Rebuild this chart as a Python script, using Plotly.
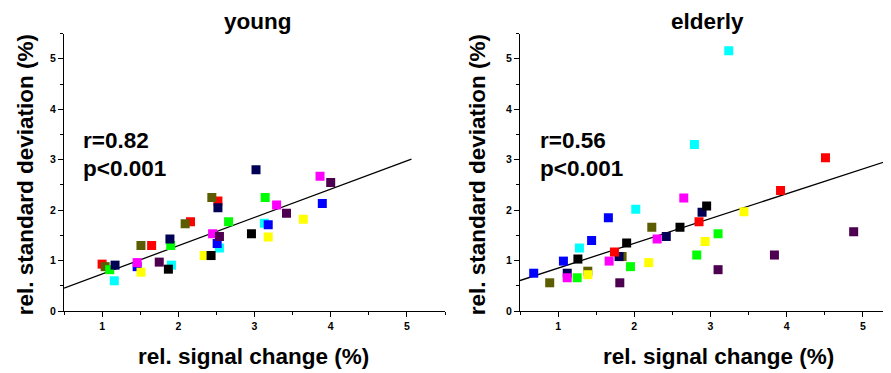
import plotly.graph_objects as go

# ---------------- data ----------------
colors = {
    "red": "#ff0000", "olive": "#5c5c00", "green": "#00ff00", "navy": "#000055",
    "cyan": "#00ffff", "blue": "#0000ff", "magenta": "#ff00ff", "yellow": "#ffff00",
    "purple": "#4d0050", "black": "#000000",
}

young_x = {
    "red": [1.00, 1.65, 2.16, 2.52],
    "olive": [1.04, 1.51, 2.09, 2.44],
    "green": [1.10, 1.90, 2.66, 3.14],
    "navy": [1.17, 1.89, 2.52, 3.02],
    "cyan": [1.16, 1.91, 2.54, 3.13],
    "blue": [1.46, 2.51, 3.18, 3.89],
    "magenta": [1.46, 2.45, 3.29, 3.86],
    "yellow": [1.51, 2.34, 3.18, 3.64],
    "purple": [1.75, 2.54, 3.42, 4.00],
    "black": [1.87, 2.43, 2.96],
}
young_y = {
    "red": [0.93, 1.30, 1.77, 2.18],
    "olive": [0.88, 1.30, 1.73, 2.25],
    "green": [0.82, 1.30, 1.77, 2.25],
    "navy": [0.91, 1.43, 2.05, 2.80],
    "cyan": [0.60, 0.91, 1.25, 1.74],
    "blue": [0.88, 1.34, 1.71, 2.13],
    "magenta": [0.96, 1.53, 2.10, 2.67],
    "yellow": [0.77, 1.10, 1.47, 1.82],
    "purple": [0.97, 1.48, 1.94, 2.55],
    "black": [0.83, 1.10, 1.53],
}

elderly_x = {
    "blue": [0.68, 1.07, 1.44, 1.66],
    "olive": [0.89, 1.39, 1.84, 2.23],
    "navy": [1.12, 1.80, 2.42, 2.89],
    "magenta": [1.12, 1.67, 2.30, 2.65],
    "green": [1.25, 1.95, 2.82, 3.10],
    "black": [1.26, 1.90, 2.60, 2.95],
    "cyan": [1.28, 2.02, 2.79, 3.24],
    "yellow": [1.39, 2.19, 2.93, 3.44],
    "red": [1.74, 2.85, 3.92, 4.51],
    "purple": [1.81, 3.10, 3.84, 4.88],
}
elderly_y = {
    "blue": [0.75, 0.99, 1.40, 1.85],
    "olive": [0.56, 0.79, 1.08, 1.66],
    "navy": [0.75, 1.08, 1.48, 1.96],
    "magenta": [0.66, 0.99, 1.43, 2.24],
    "green": [0.66, 0.88, 1.11, 1.53],
    "black": [1.03, 1.35, 1.66, 2.08],
    "cyan": [1.25, 2.02, 3.30, 5.16],
    "yellow": [0.72, 0.96, 1.38, 1.97],
    "red": [1.17, 1.77, 2.39, 3.04],
    "purple": [0.56, 0.82, 1.11, 1.57],
}

# regression lines (endpoints in data units)
young_fit_x = [0.5, 5.06]
young_fit_y = [0.455, 3.01]
elderly_fit_x = [0.5, 5.30]
elderly_fit_y = [0.605, 2.965]

titles = ["young", "elderly"]
stats = [["r=0.82", "p<0.001"], ["r=0.56", "p<0.001"]]
x_title = "rel. signal change (%)"
y_title = "rel. standard deviation (%)"

# ---------------- figure ----------------
FONT = "Liberation Sans, Arial, sans-serif"
OFF = 8  # default page body margin shifts the figure by this much
W, H = 891, 373


def fx(px):
    return (px - OFF) / W


def fy(py):
    return 1 - (py - OFF) / H


fig = go.Figure()

panels = [
    (young_x, young_y, young_fit_x, young_fit_y, "x", "y"),
    (elderly_x, elderly_y, elderly_fit_x, elderly_fit_y, "x2", "y2"),
]
for xs, ys, fxl, fyl, xa, ya in panels:
    fig.add_trace(go.Scatter(x=fxl, y=fyl, mode="lines", line=dict(color="black", width=1.3),
                             xaxis=xa, yaxis=ya, showlegend=False, hoverinfo="skip"))
    for name in xs:
        fig.add_trace(go.Scatter(
            x=xs[name], y=ys[name], mode="markers", name=name,
            marker=dict(symbol="square", size=9, color=colors[name], line=dict(width=0)),
            xaxis=xa, yaxis=ya, showlegend=False))

axis_common = dict(
    showline=True, linecolor="black", linewidth=1.2, ticks="outside", ticklen=5,
    tickwidth=1, tickcolor="black", showgrid=False, zeroline=False,
    tickfont=dict(family=FONT, size=10.5, color="black", weight="bold"),
    minor=dict(ticks="outside", ticklen=3, tickcolor="black", dtick=0.5, showgrid=False),
    dtick=1, fixedrange=True,
)

d1 = [fx(64), fx(445)]
d2 = [fx(520), fx(891)]
dy = [fy(316), fy(34)]

fig.update_layout(
    width=W, height=H,
    margin=dict(l=0, r=0, t=0, b=0),
    paper_bgcolor="white", plot_bgcolor="white",
    xaxis=dict(domain=d1, range=[0.5, 5.5], anchor="y", **axis_common),
    yaxis=dict(domain=dy, range=[0, 5.5], anchor="x", **axis_common),
    xaxis2=dict(domain=d2, range=[0.5, 5.37], anchor="y2", **axis_common),
    yaxis2=dict(domain=dy, range=[0, 5.5], anchor="x2", **axis_common),
)


def bold(s):
    return dict(family=FONT, size=s, color="black", weight="bold")


ann = []
pos = [
    dict(title=258, xt=253, yt=25, st=81),
    dict(title=707, xt=718, yt=477, st=538),
]
for i in range(2):
    p = pos[i]
    common = dict(xref="paper", yref="paper", showarrow=False, yanchor="middle")
    ann.append(dict(text=titles[i], x=fx(p["title"]), y=fy(22), font=bold(22.5),
                    xanchor="center", **common))
    ann.append(dict(text=x_title, x=fx(p["xt"]), y=fy(362), font=bold(22.5),
                    xanchor="center", **common))
    ann.append(dict(text=y_title, x=fx(p["yt"]), y=fy(178), font=bold(22.5), textangle=-90,
                    xanchor="center", **common))
    ann.append(dict(text=stats[i][0], x=fx(p["st"]), y=fy(143), font=bold(22.5),
                    xanchor="left", **common))
    ann.append(dict(text=stats[i][1], x=fx(p["st"]), y=fy(171), font=bold(22.5),
                    xanchor="left", **common))
fig.update_layout(annotations=ann)

fig.write_html("out.html")
